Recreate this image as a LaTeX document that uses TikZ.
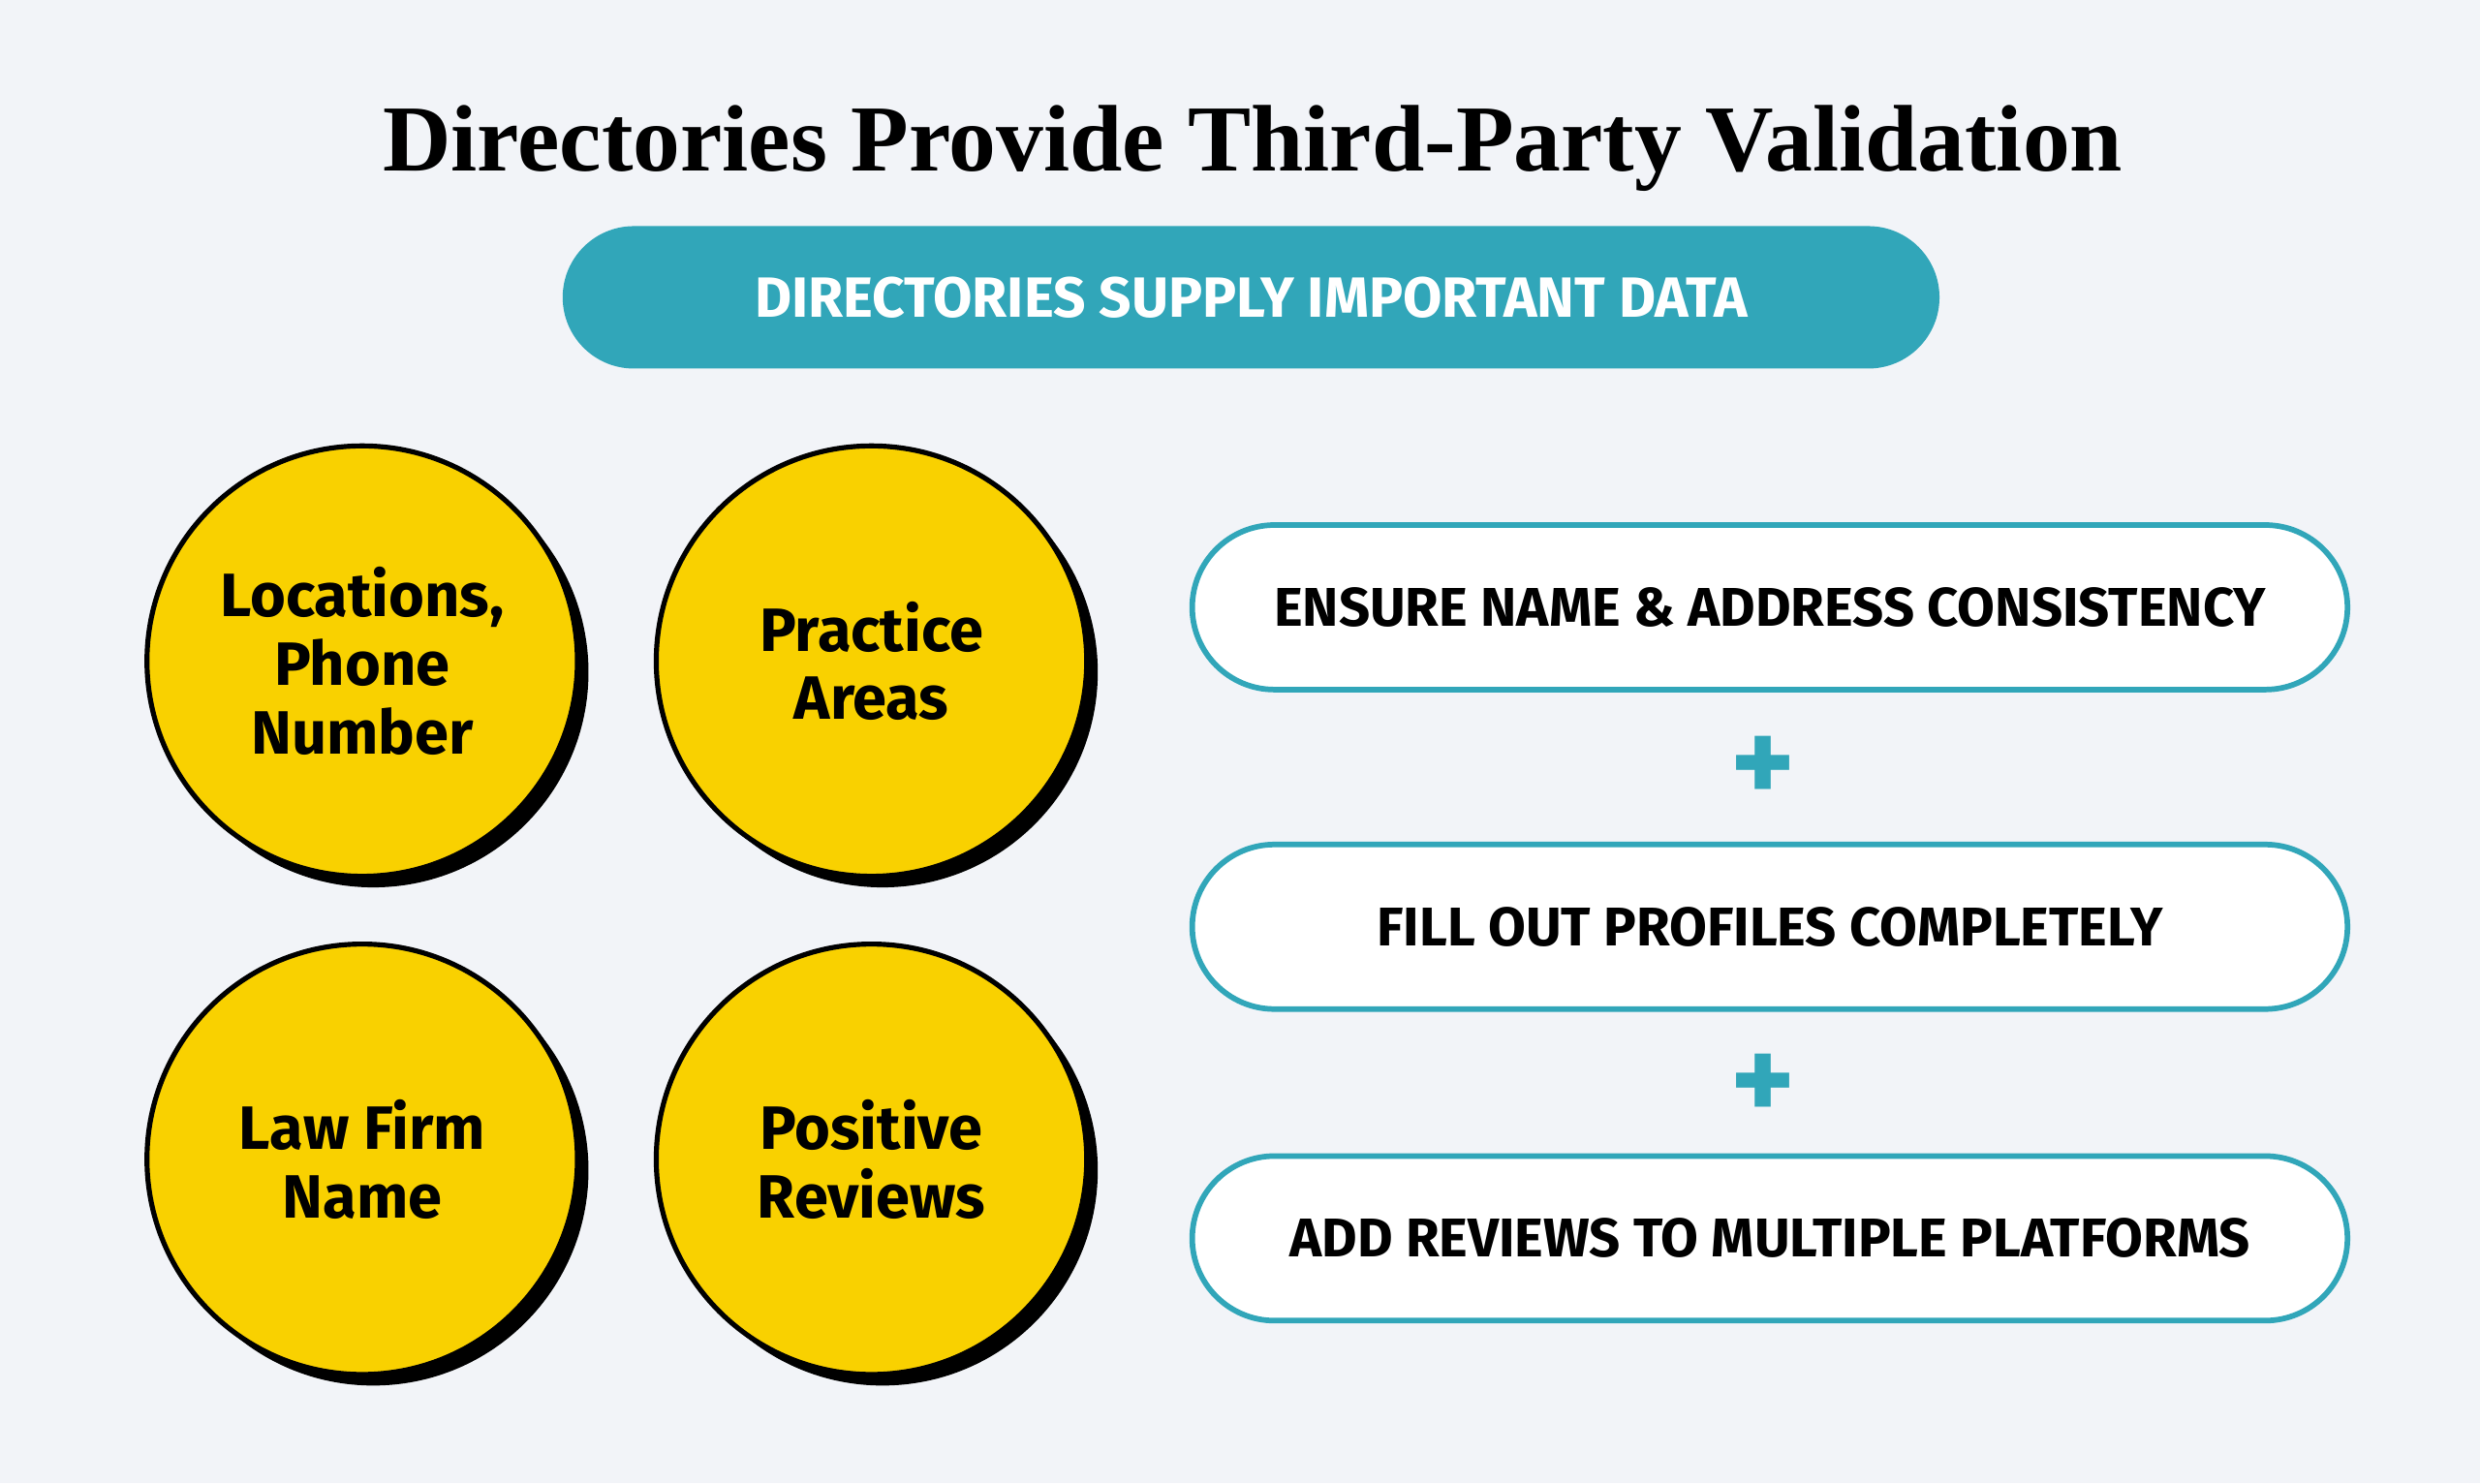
\documentclass[tikz,border=0pt]{standalone}
\usepackage{fontspec}
\setmainfont{Fira Sans}
\newfontfamily\titlefont{Liberation Serif}
\definecolor{bgcol}{HTML}{F2F4F8}
\definecolor{teal}{HTML}{31A6B9}
\definecolor{gold}{HTML}{F9D100}
\tikzset{
  bubble/.style={circle, draw=black, line width=0.9pt, fill=gold, minimum size=2.72cm,
    align=center, font=\fontsize{11}{12.3}\selectfont\bfseries,
    preaction={fill=black, transform canvas={xshift=0.07cm, yshift=-0.07cm}}},
  tip box/.style={rounded corners=0.52cm, draw=teal, line width=1pt, fill=white,
    minimum width=7.3cm, minimum height=1.04cm, font=\fontsize{9.8}{11}\selectfont\bfseries},
  plus/.style={text=teal, font=\fontsize{22}{22}\selectfont\bfseries}
}
\begin{document}
\begin{tikzpicture}[x=0.01cm,y=-0.01cm]
  % background
  \fill[bgcol] (0,0) rectangle (1568,938);
  \useasboundingbox (0,0) rectangle (1568,938);
  \node[font=\titlefont\fontsize{17}{17}\selectfont\bfseries] (title) at (792,94) {Directories Provide Third-Party Validation};
  \node[rounded corners=0.45cm, fill=teal, minimum width=8.7cm, minimum height=0.9cm,
    text=white, font=\fontsize{10.2}{12}\selectfont\bfseries] (banner) at (791,188) {DIRECTORIES SUPPLY IMPORTANT DATA};
  % bubbles
  \node[bubble] (loc) at (229,418) {Locations,\\Phone\\Number};
  \node[bubble] (prac) at (551,418) {Practice\\Areas};
  \node[bubble] (firm) at (229,733) {Law Firm\\Name};
  \node[bubble] (rev) at (551,733) {Positive\\Reviews};
  % steps
  \node[tip box] (ensure) at (1119,384) {ENSURE NAME \& ADDRESS CONSISTENCY};
  \node[tip box] (fill) at (1119,586) {FILL OUT PROFILES COMPLETELY};
  \node[tip box] (add) at (1119,783) {ADD REVIEWS TO MULTIPLE PLATFORMS};
  \node[plus] (p1) at (1115,487) {+};
  \node[plus] (p2) at (1115,688) {+};
\end{tikzpicture}
\end{document}
